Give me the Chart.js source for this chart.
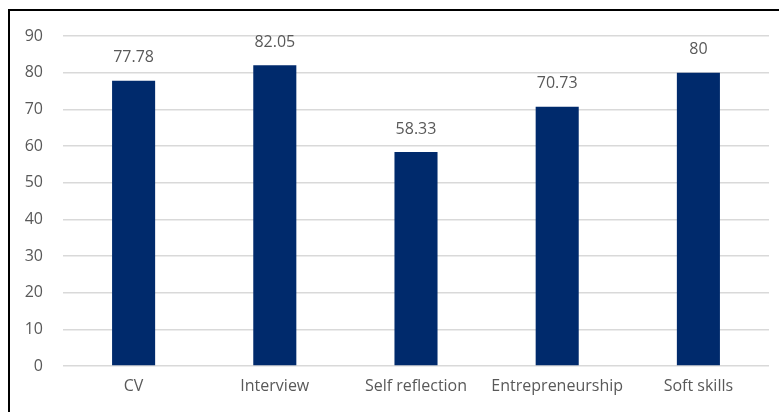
<!DOCTYPE html>
<html>
<head>
<meta charset="utf-8">
<script src="https://cdn.jsdelivr.net/npm/chart.js@4"></script>
<style>
  html, body { margin: 0; padding: 0; background: #fff; }
  #wrap { position: relative; width: 779px; height: 412px; overflow: hidden; }
  #frame { position: absolute; left: 8px; top: 9px; width: 900px; height: 600px; border-top: 2px solid #000; border-left: 2px solid #000; box-sizing: border-box; pointer-events: none; }
  canvas { position: absolute; left: 0; top: 0; }
</style>
</head>
<body>
<div id="wrap">
  <canvas id="c" width="779" height="412"></canvas>
  <div id="frame"></div>
</div>
<script>
const categories = ["CV", "Interview", "Self reflection", "Entrepreneurship", "Soft skills"];
const values = [77.78, 82.05, 58.33, 70.73, 80];
const valueLabels = ["77.78", "82.05", "58.33", "70.73", "80"];
const yTicks = [0, 10, 20, 30, 40, 50, 60, 70, 80, 90];

const FONT = "'Open Sans', Lato, sans-serif";
const TXT = "#595959";

const labelPlugin = {
  id: "valueLabels",
  afterDatasetsDraw(chart) {
    const ctx = chart.ctx;
    const meta = chart.getDatasetMeta(0);
    ctx.save();
    ctx.font = "16px " + FONT;
    ctx.fillStyle = TXT;
    ctx.textAlign = "center";
    ctx.textBaseline = "middle";
    meta.data.forEach((bar, i) => {
      ctx.fillText(valueLabels[i], bar.x, bar.y - 23);
    });
    ctx.restore();
  }
};

new Chart(document.getElementById("c"), {
  type: "bar",
  data: {
    labels: categories,
    datasets: [{
      data: values,
      backgroundColor: "#002a6c",
      borderWidth: 0,
      barPercentage: 0.305,
      categoryPercentage: 1
    }]
  },
  options: {
    responsive: false,
    animation: false,
    devicePixelRatio: 1,
    layout: { padding: { top: 36, right: 10, left: 0, bottom: 0 } },
    plugins: { legend: { display: false }, tooltip: { enabled: false } },
    scales: {
      x: {
        grid: { display: false, drawTicks: false },
        border: { display: false },
        ticks: { color: TXT, font: { family: FONT, size: 16 }, padding: 11, maxRotation: 0, autoSkip: false },
        afterFit(scale) { scale.height = 46; }
      },
      y: {
        min: 0,
        max: 90,
        afterBuildTicks(scale) { scale.ticks = yTicks.map(v => ({ value: v })); },
        grid: { color: "#d9d9d9", lineWidth: 1.5, drawTicks: false },
        border: { display: false },
        ticks: { color: TXT, font: { family: FONT, size: 16 }, padding: 20 },
        afterFit(scale) { scale.width = 63; }
      }
    }
  },
  plugins: [labelPlugin]
});
</script>
</body>
</html>
